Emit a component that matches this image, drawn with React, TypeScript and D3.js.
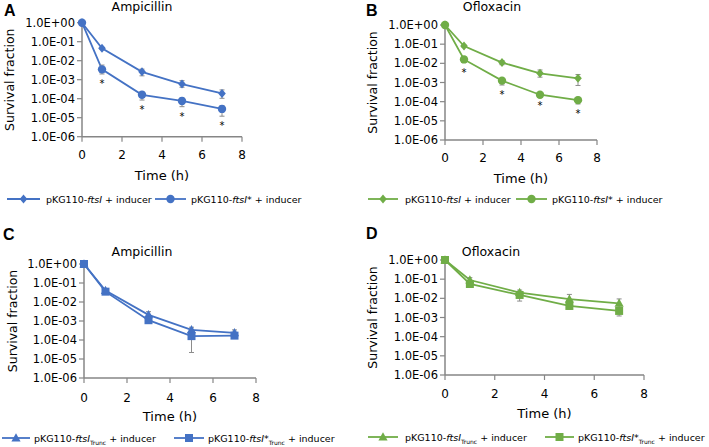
import React from "react";
import * as d3 from "d3";

// ---------- data ----------
const times = [0, 1, 3, 5, 7];
const xTicks = [0, 2, 4, 6, 8];
const yTicks = [1, 1e-1, 1e-2, 1e-3, 1e-4, 1e-5, 1e-6];
const yTickLabels = ["1.0E+00", "1.0E-01", "1.0E-02", "1.0E-03", "1.0E-04", "1.0E-05", "1.0E-06"];

// Panel A – Ampicillin
const aFtsI = [1, 0.045, 2.6e-3, 5.9e-4, 1.9e-4];
const aFtsIHi = [1, 0.05, 3.6e-3, 8.9e-4, 2.9e-4];
const aFtsILo = [1, 0.04, 1.6e-3, 4.0e-4, 1.05e-4];
const aFtsIStar = [1, 3.5e-3, 1.6e-4, 7.6e-5, 2.9e-5];
const aFtsIStarHi = [1, 5.9e-3, 2.3e-4, 1.1e-4, 4.3e-5];
const aFtsIStarLo = [1, 2.0e-3, 8.5e-5, 3.8e-5, 1.2e-5];
const aSig = [false, true, true, true, true];

// Panel B – Ofloxacin
const bFtsI = [1, 0.08, 0.011, 3.0e-3, 1.65e-3];
const bFtsIHi = [1, 0.09, 0.014, 4.5e-3, 2.6e-3];
const bFtsILo = [1, 0.07, 8.5e-3, 1.9e-3, 7.0e-4];
const bFtsIStar = [1, 0.016, 1.25e-3, 2.3e-4, 1.2e-4];
const bFtsIStarHi = [1, 0.022, 1.65e-3, 3.0e-4, 1.7e-4];
const bFtsIStarLo = [1, 0.011, 7.4e-4, 1.9e-4, 7.6e-5];
const bSig = [false, true, true, true, true];

// Panel C – Ampicillin (truncated)
const cTrunc = [1, 0.04, 2.1e-3, 3.4e-4, 2.4e-4];
const cTruncHi = [1, 0.045, 3.1e-3, 4.7e-4, 3.4e-4];
const cTruncLo = [1, 0.036, 1.5e-3, 2.6e-4, 1.8e-4];
const cTruncStar = [1, 0.035, 1.1e-3, 1.6e-4, 1.7e-4];
const cTruncStarHi = [1, 0.04, 1.4e-3, 2.0e-4, 2.0e-4];
const cTruncStarLo = [1, 0.03, 8.0e-4, 2.2e-5, 1.4e-4];
const cSig = [false, false, false, false, false];

// Panel D – Ofloxacin (truncated)
const dTrunc = [1, 0.09, 0.02, 9.0e-3, 5.5e-3];
const dTruncHi = [1, 0.12, 0.027, 0.016, 9.3e-3];
const dTruncLo = [1, 0.07, 0.015, 6.0e-3, 3.5e-3];
const dTruncStar = [1, 0.056, 0.015, 4.0e-3, 2.2e-3];
const dTruncStarHi = [1, 0.07, 0.019, 5.0e-3, 3.0e-3];
const dTruncStarLo = [1, 0.038, 7.2e-3, 2.7e-3, 1.2e-3];
const dSig = [false, false, false, false, false];

const BLUE = "#4472C4";
const GREEN = "#70AD47";
const AXIS = "#868686";
const ERR = "#8c8c8c";
const FONT = "'DejaVu Sans', sans-serif";

type Series = {
  vals: number[];
  hi: number[];
  lo: number[];
  marker: "diamond" | "circle" | "triangle" | "square";
};

function markerPath(kind: string, x: number, y: number): string {
  if (kind === "diamond") return `M${x},${y - 4.5}L${x + 3.8},${y}L${x},${y + 4.5}L${x - 3.8},${y}Z`;
  if (kind === "triangle") return `M${x},${y - 4.8}L${x + 4.6},${y + 3.4}L${x - 4.6},${y + 3.4}Z`;
  return `M${x - 4},${y - 4}h8v8h-8Z`;
}

function Marker({ kind, x, y, color }: { kind: string; x: number; y: number; color: string }) {
  if (kind === "circle") return <circle cx={x} cy={y} r={4.2} fill={color} />;
  return <path d={markerPath(kind, x, y)} fill={color} />;
}

type LegendItem = { lineX0: number; lineX1: number; textX: number; marker: Series["marker"]; star: boolean; trunc: boolean };

type PanelProps = {
  letter: string;
  letterX: number;
  letterY: number;
  title: string;
  titleX: number;
  titleY: number;
  x0: number;
  x8: number;
  yTop: number;
  yBot: number;
  color: string;
  series: Series[];
  sig: boolean[];
  sigRef: number[];
  xLabelY: number;
  xTitleY: number;
  yTitleX: number;
  legendY: number;
  legend: LegendItem[];
};

function Panel(p: PanelProps) {
  const x = d3.scaleLinear().domain([0, 8]).range([p.x0, p.x8]);
  const y = d3.scaleLog().domain([1e-6, 1]).range([p.yBot, p.yTop]);
  const line = d3
    .line<number>()
    .x((_, i) => x(times[i]))
    .y((v) => y(v));
  return (
    <g>
      <text x={p.letterX} y={p.letterY} fontFamily="'Liberation Sans', Arial, sans-serif" fontWeight="bold" fontSize={16} fill="#000">
        {p.letter}
      </text>
      <text x={p.titleX} y={p.titleY} textAnchor="middle" fontFamily={FONT} fontSize={12.5} fill="#000">
        {p.title}
      </text>
      {/* axes */}
      <line x1={p.x0} x2={p.x0} y1={p.yTop} y2={p.yBot} stroke={AXIS} strokeWidth={1.5} />
      <line x1={p.x0} x2={p.x8} y1={p.yBot} y2={p.yBot} stroke={AXIS} strokeWidth={1.5} />
      {yTicks.map((t, i) => (
        <g key={"yt" + i}>
          <line x1={p.x0 - 5} x2={p.x0} y1={y(t)} y2={y(t)} stroke={AXIS} strokeWidth={1.2} />
          <text x={p.x0 - 7} y={y(t) + 4} textAnchor="end" fontFamily={FONT} fontSize={11.5} fill="#000">
            {yTickLabels[i]}
          </text>
        </g>
      ))}
      {xTicks.map((t, i) => (
        <g key={"xt" + i}>
          <line x1={x(t)} x2={x(t)} y1={p.yBot} y2={p.yBot + 5} stroke={AXIS} strokeWidth={1.2} />
          <text x={x(t)} y={p.xLabelY} textAnchor="middle" fontFamily={FONT} fontSize={12} fill="#000">
            {t}
          </text>
        </g>
      ))}
      <text x={(p.x0 + p.x8) / 2} y={p.xTitleY} textAnchor="middle" fontFamily={FONT} fontSize={13} fill="#000">
        Time (h)
      </text>
      <text
        transform={`translate(${p.yTitleX},${(p.yTop + p.yBot) / 2}) rotate(-90)`}
        textAnchor="middle"
        fontFamily={FONT}
        fontSize={12.5}
        fill="#000"
      >
        Survival fraction
      </text>
      {/* series */}
      {p.series.map((s, si) => (
        <g key={"s" + si}>
          <path d={line(s.vals) as string} fill="none" stroke={p.color} strokeWidth={1.8} />
          {s.vals.map((v, i) => {
            const cx = x(times[i]);
            const yh = y(s.hi[i]);
            const yl = y(s.lo[i]);
            return (
              <g key={"e" + i}>
                {s.hi[i] !== s.lo[i] && (
                  <g stroke={ERR} strokeWidth={1}>
                    <line x1={cx} x2={cx} y1={yh} y2={yl} />
                    <line x1={cx - 2.5} x2={cx + 2.5} y1={yh} y2={yh} />
                    <line x1={cx - 2.5} x2={cx + 2.5} y1={yl} y2={yl} />
                  </g>
                )}
              </g>
            );
          })}
          {s.vals.map((v, i) => (
            <Marker key={"m" + i} kind={s.marker} x={x(times[i])} y={y(v)} color={p.color} />
          ))}
        </g>
      ))}
      {/* significance */}
      {p.sig.map((on, i) =>
        on ? (
          <text key={"sig" + i} x={x(times[i])} y={y(p.sigRef[i]) + 13} textAnchor="middle" fontFamily={FONT} fontSize={10} fill="#000">
            *
          </text>
        ) : null
      )}
      {/* legend */}
      {p.legend.map((l, i) => (
        <g key={"lg" + i}>
          <line x1={l.lineX0} x2={l.lineX1} y1={p.legendY} y2={p.legendY} stroke={p.color} strokeWidth={1.8} />
          <Marker kind={l.marker} x={(l.lineX0 + l.lineX1) / 2} y={p.legendY} color={p.color} />
          <text x={l.textX} y={p.legendY + 4} fontFamily={FONT} fontSize={9.5} fill="#000">
            <tspan>pKG110-</tspan>
            <tspan fontStyle="italic">ftsI</tspan>
            {l.star && <tspan>*</tspan>}
            {l.trunc && (
              <tspan fontSize={6} dy={2.5}>
                Trunc
              </tspan>
            )}
            <tspan dy={l.trunc ? -2.5 : 0}> + inducer</tspan>
          </text>
        </g>
      ))}
    </g>
  );
}

export default function App() {
  return (
    <svg width={709} height={447} style={{ display: "block", position: "absolute", left: 0, top: 0 }}>
      <rect width={709} height={447} fill="#fff" />
      <Panel
        letter="A"
        letterX={4}
        letterY={16}
        title="Ampicillin"
        titleX={142}
        titleY={11}
        x0={82}
        x8={242}
        yTop={22.7}
        yBot={136.7}
        color={BLUE}
        series={[
          { vals: aFtsI, hi: aFtsIHi, lo: aFtsILo, marker: "diamond" },
          { vals: aFtsIStar, hi: aFtsIStarHi, lo: aFtsIStarLo, marker: "circle" },
        ]}
        sig={aSig}
        sigRef={aFtsIStarLo}
        xLabelY={159}
        xTitleY={180}
        yTitleX={14}
        legendY={199}
        legend={[
          { lineX0: 7, lineX1: 40, textX: 46, marker: "diamond", star: false, trunc: false },
          { lineX0: 155, lineX1: 186, textX: 191, marker: "circle", star: true, trunc: false },
        ]}
      />
      <Panel
        letter="B"
        letterX={366}
        letterY={16}
        title="Ofloxacin"
        titleX={492}
        titleY={11}
        x0={445}
        x8={597}
        yTop={25}
        yBot={140}
        color={GREEN}
        series={[
          { vals: bFtsI, hi: bFtsIHi, lo: bFtsILo, marker: "diamond" },
          { vals: bFtsIStar, hi: bFtsIStarHi, lo: bFtsIStarLo, marker: "circle" },
        ]}
        sig={bSig}
        sigRef={bFtsIStarLo}
        xLabelY={162}
        xTitleY={183}
        yTitleX={377}
        legendY={199}
        legend={[
          { lineX0: 368, lineX1: 398, textX: 405, marker: "diamond", star: false, trunc: false },
          { lineX0: 516, lineX1: 547, textX: 552, marker: "circle", star: true, trunc: false },
        ]}
      />
      <Panel
        letter="C"
        letterX={3}
        letterY={240}
        title="Ampicillin"
        titleX={142}
        titleY={256}
        x0={84}
        x8={256}
        yTop={264}
        yBot={378}
        color={BLUE}
        series={[
          { vals: cTrunc, hi: cTruncHi, lo: cTruncLo, marker: "triangle" },
          { vals: cTruncStar, hi: cTruncStarHi, lo: cTruncStarLo, marker: "square" },
        ]}
        sig={cSig}
        sigRef={cTruncStarLo}
        xLabelY={402}
        xTitleY={421}
        yTitleX={17}
        legendY={438}
        legend={[
          { lineX0: 2, lineX1: 30, textX: 34, marker: "triangle", star: false, trunc: true },
          { lineX0: 174, lineX1: 204, textX: 208, marker: "square", star: true, trunc: true },
        ]}
      />
      <Panel
        letter="D"
        letterX={366}
        letterY={239}
        title="Ofloxacin"
        titleX={491}
        titleY={256}
        x0={445}
        x8={644}
        yTop={260}
        yBot={375}
        color={GREEN}
        series={[
          { vals: dTrunc, hi: dTruncHi, lo: dTruncLo, marker: "triangle" },
          { vals: dTruncStar, hi: dTruncStarHi, lo: dTruncStarLo, marker: "square" },
        ]}
        sig={dSig}
        sigRef={dTruncStarLo}
        xLabelY={398}
        xTitleY={418}
        yTitleX={377}
        legendY={437}
        legend={[
          { lineX0: 368, lineX1: 398, textX: 405, marker: "triangle", star: false, trunc: true },
          { lineX0: 545, lineX1: 574, textX: 578, marker: "square", star: true, trunc: true },
        ]}
      />
    </svg>
  );
}
